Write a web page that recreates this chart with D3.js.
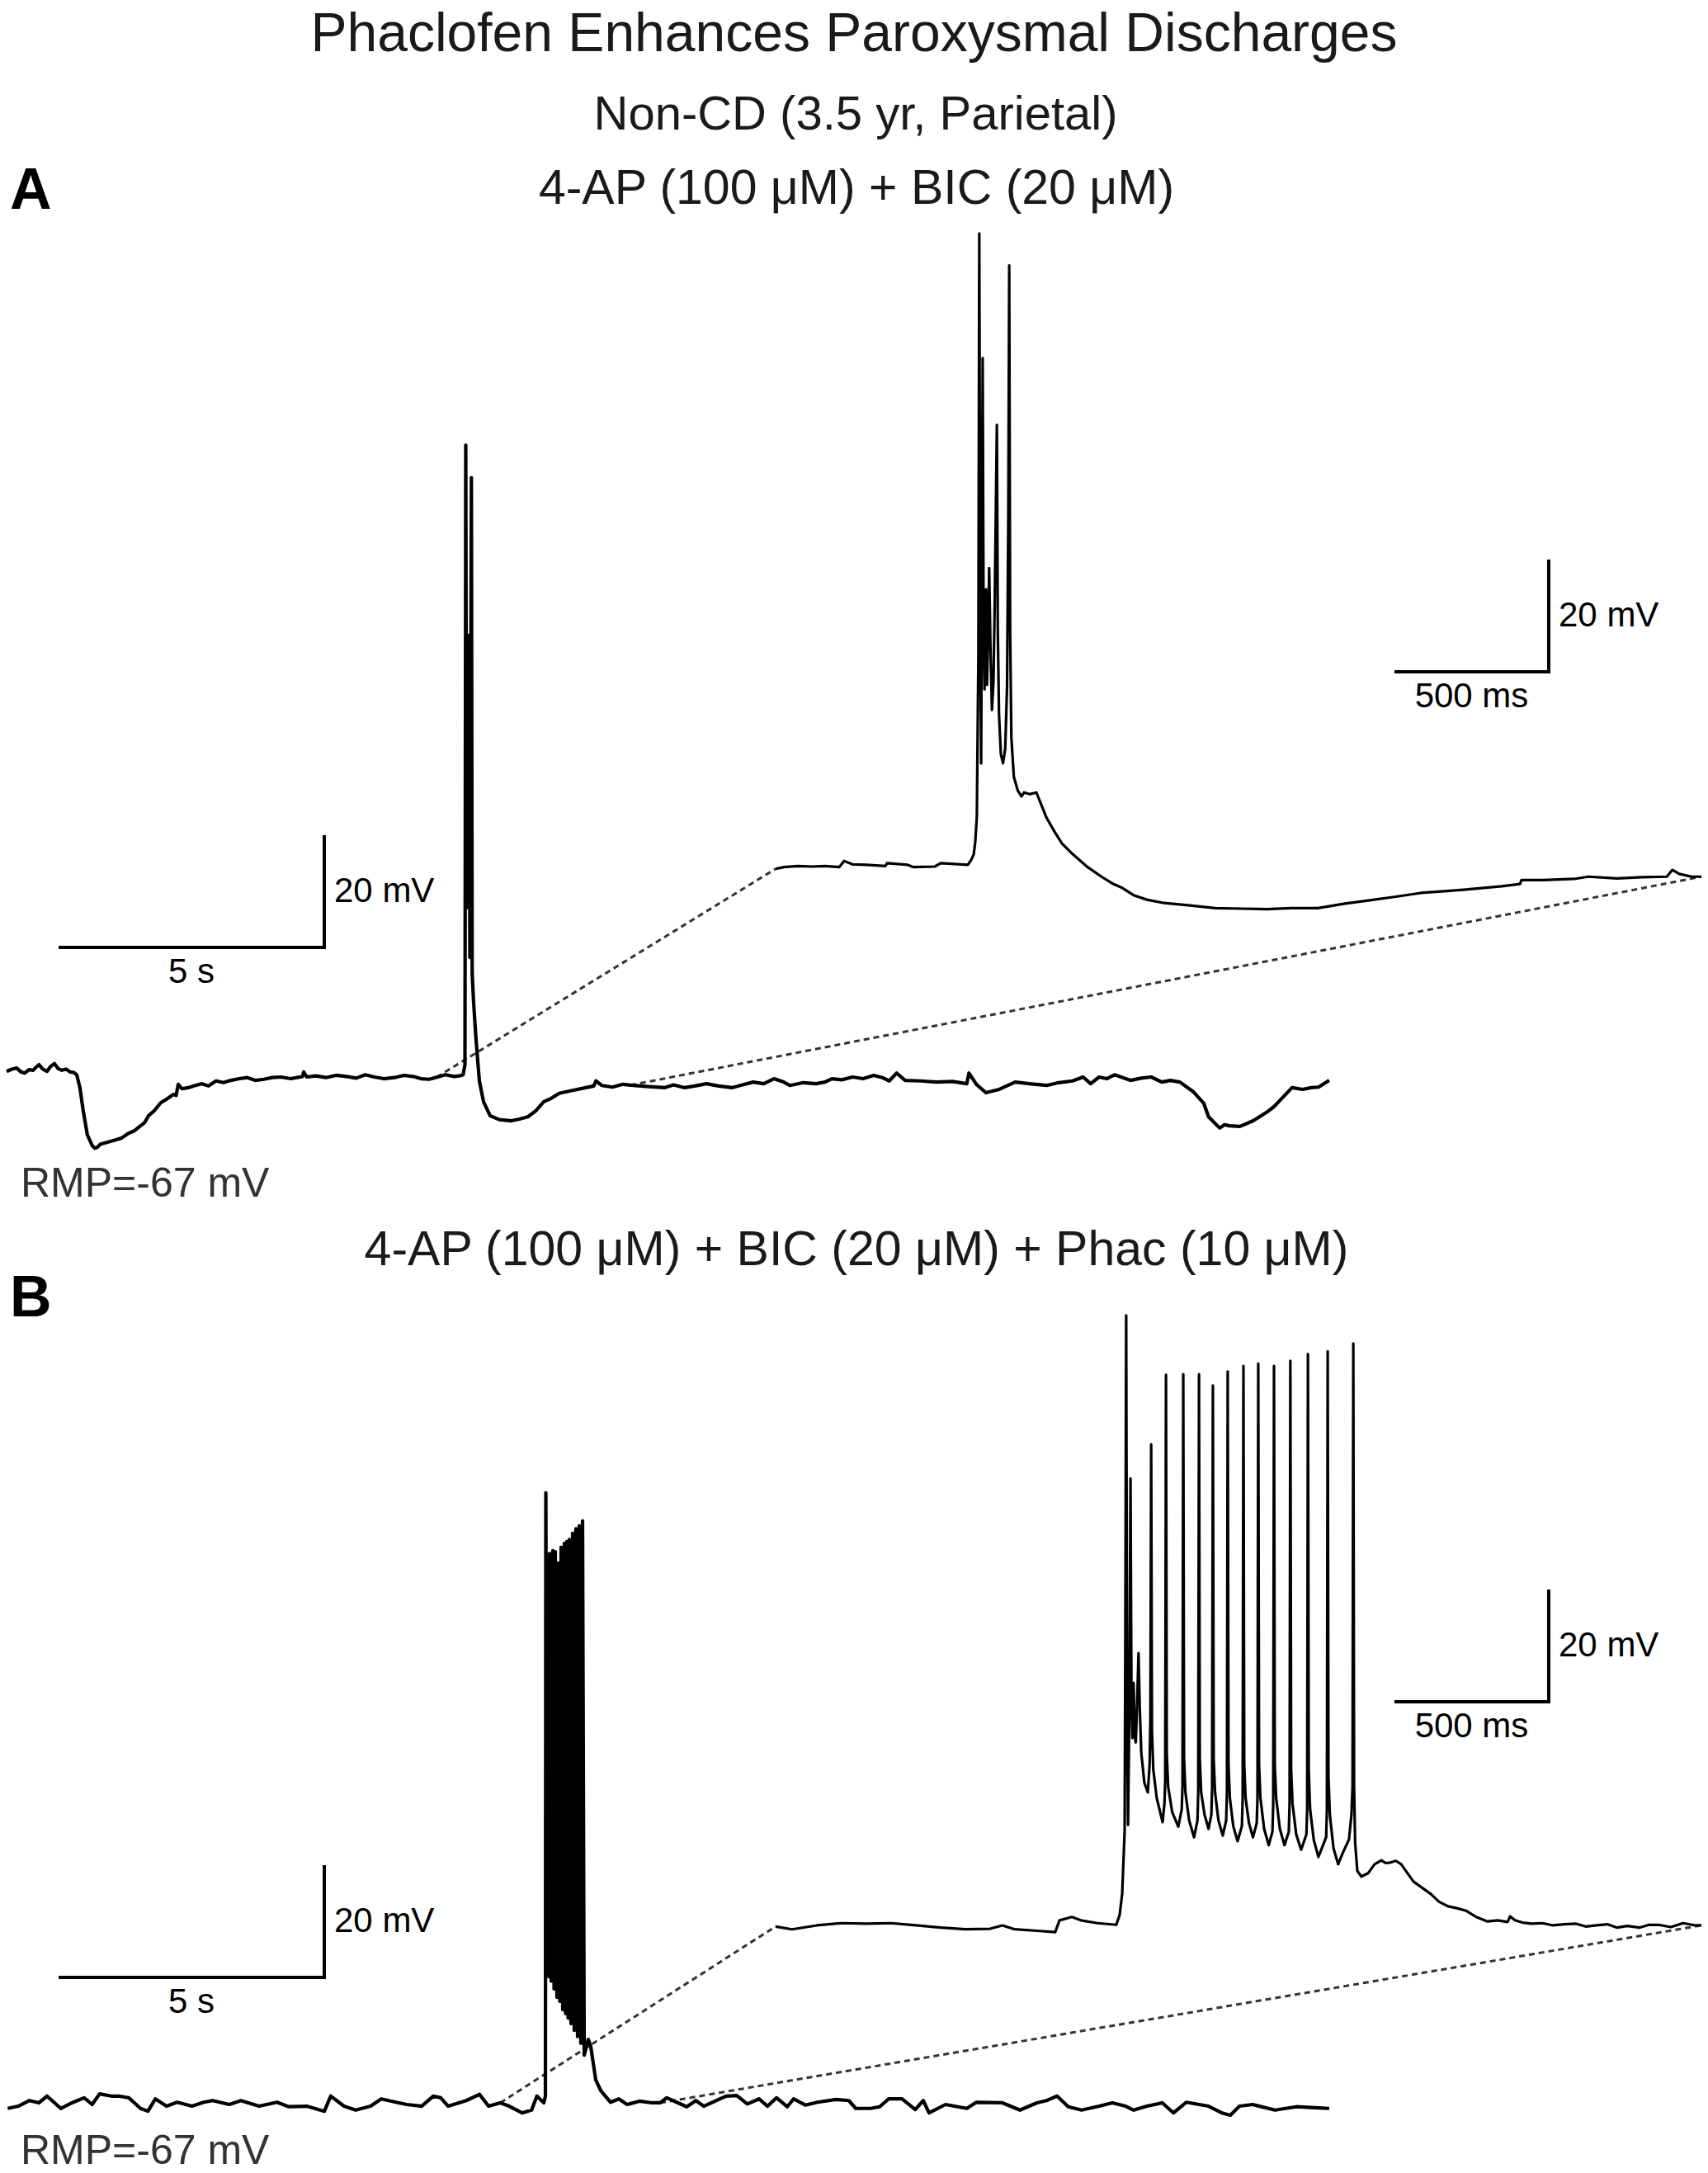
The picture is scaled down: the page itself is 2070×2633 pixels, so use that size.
<!DOCTYPE html>
<html><head><meta charset="utf-8">
<script src="https://cdn.jsdelivr.net/npm/d3@7"></script>
<style>body{margin:0;background:#fff}svg{display:block}</style>
</head><body><svg id="c" width="2070" height="2633"></svg>
<script>
// ---------- DATA (time s / ms, membrane potential mV) ----------
const titleText = "Phaclofen Enhances Paroxysmal Discharges";
const subtitleText = "Non-CD (3.5 yr, Parietal)";
const panelLabels = ["A", "B"];
const conditionLabels = ["4-AP (100 \u03bcM) + BIC (20 \u03bcM)", "4-AP (100 \u03bcM) + BIC (20 \u03bcM) + Phac (10 \u03bcM)"];
const rmpLabel = "RMP=-67 mV";
const scaleLabels = {mv: "20 mV", longT: "5 s", insetT: "500 ms"};
const scaleValues = {mv: 20, longT: 5, insetT: 500};
// expanded windows (s, on long trace) shown in insets
const zoomWindowA = [8.09, 11.74];
const zoomWindowB = [9.29, 12.30];

const longA = [[0,-66.0],[0.1,-65.6],[0.19,-65.4],[0.27,-66.1],[0.34,-66.3],[0.42,-65.7],[0.50,-65.8],[0.56,-65.2],[0.61,-64.8],[0.68,-65.6],[0.76,-66.0],[0.83,-65.1],[0.90,-64.6],[0.97,-65.5],[1.04,-65.8],[1.12,-65.6],[1.20,-66.1],[1.27,-66.2],[1.32,-66.6],[1.38,-68.9],[1.44,-72.9],[1.52,-77.3],[1.61,-79.2],[1.66,-79.7],[1.71,-79.5],[1.76,-79.0],[1.83,-78.8],[1.94,-78.5],[2.05,-78.2],[2.16,-77.9],[2.28,-77.1],[2.40,-76.6],[2.52,-75.7],[2.60,-75.1],[2.67,-73.9],[2.78,-73.0],[2.90,-71.6],[3.02,-70.9],[3.14,-70.1],[3.19,-70.3],[3.23,-68.3],[3.30,-69.1],[3.42,-68.9],[3.55,-68.5],[3.68,-68.2],[3.80,-68.6],[3.94,-67.7],[4.08,-68.0],[4.22,-67.6],[4.38,-67.3],[4.53,-67.1],[4.68,-67.6],[4.84,-67.4],[5.00,-67.1],[5.16,-67.0],[5.35,-67.3],[5.57,-66.9],[5.59,-66.1],[5.65,-67.0],[5.82,-66.8],[6.01,-67.1],[6.20,-66.7],[6.40,-66.9],[6.58,-67.2],[6.75,-66.6],[6.92,-67.0],[7.10,-67.3],[7.30,-67.1],[7.48,-66.7],[7.65,-66.9],[7.80,-67.3],[7.95,-67.4],[8.11,-67.0],[8.26,-66.6],[8.42,-66.9],[8.52,-66.8],[8.59,-66.6],
[8.626,-64.8],[8.641,45.6],[8.654,-22.1],[8.665,10.2],[8.674,-28.0],[8.683,7.3],[8.693,-36.9],[8.703,11.7],[8.719,-45.7],[8.747,39.8],[8.762,-48.6],[8.789,-53.8],[8.835,-60.4],[8.897,-67.7],[8.975,-71.4],[9.099,-73.9],[9.27,-74.6],[9.50,-74.8],[9.65,-74.5],[9.81,-74.1],[9.96,-73.0],[10.11,-71.4],[10.25,-70.8],[10.40,-69.9],[10.65,-69.4],[10.90,-68.9],[11.05,-68.6],[11.09,-67.7],[11.20,-68.5],[11.40,-68.8],[11.60,-68.3],[11.79,-68.5],[12.08,-68.7],[12.38,-68.9],[12.55,-68.4],[12.76,-68.9],[12.95,-68.6],[13.17,-68.2],[13.40,-68.6],[13.65,-68.9],[13.85,-68.4],[14.05,-67.9],[14.25,-68.2],[14.44,-67.3],[14.60,-67.8],[14.74,-68.5],[15.00,-68.0],[15.23,-68.2],[15.40,-67.9],[15.53,-67.3],[15.72,-67.5],[15.92,-67.0],[16.12,-67.3],[16.32,-66.7],[16.48,-67.1],[16.61,-67.7],[16.75,-66.3],[16.91,-67.6],[17.20,-67.7],[17.50,-67.9],[17.80,-67.8],[18.07,-68.2],[18.11,-66.3],[18.25,-68.3],[18.43,-69.8],[18.68,-69.2],[18.98,-67.9],[19.25,-68.2],[19.57,-68.5],[19.80,-68.0],[20.06,-67.7],[20.26,-67.0],[20.40,-68.2],[20.56,-67.0],[20.70,-67.3],[20.85,-66.6],[21.15,-67.6],[21.35,-67.2],[21.54,-67.0],[21.74,-67.9],[21.90,-67.6],[22.08,-67.9],[22.33,-69.6],[22.53,-71.7],[22.62,-74.1],[22.83,-76.1],[22.92,-75.5],[23.01,-75.7],[23.21,-75.8],[23.46,-74.8],[23.71,-73.3],[23.85,-72.3],[24.01,-70.7],[24.19,-68.9],[24.39,-69.2],[24.55,-68.9],[24.69,-68.8],[24.89,-67.6]];

const insetA = [[0,-67.4],[27,-67.1],[72,-66.9],[120,-67.0],[160,-66.9],[206,-67.1],[222,-66.0],[249,-66.6],[294,-66.7],[356,-66.9],[361,-66.4],[428,-66.7],[447,-67.1],[516,-67.0],[535,-66.4],[623,-66.7],[634,-65.8],[642,-64.8],[647,-62.6],[652,-58.2],[657,-30],[660,45.8],[663,-20],[666,-48.6],[668,-20],[671,23.6],[674,-25],[677,-35.4],[680,-25],[682,-17.6],[685,-34.6],[689,-25],[692,-13.8],[696,-27.3],[701,-39.1],[706,-34],[710,-20],[717,11.7],[720,-25],[724,-40],[730,-47],[737,-48.6],[744,-46],[750,-35],[754,-5],[757,40.1],[760,-25],[764,-44],[772,-51],[785,-53.5],[797,-54.5],[805,-53.8],[824,-54.1],[845,-53.8],[861,-56.0],[877,-58.2],[904,-60.8],[928,-62.9],[963,-64.8],[1011,-67.1],[1056,-68.8],[1094,-70.1],[1123,-70.8],[1160,-72.1],[1203,-72.9],[1259,-73.5],[1337,-73.9],[1425,-74.4],[1511,-74.5],[1591,-74.6],[1671,-74.4],[1757,-74.4],[1845,-73.6],[1925,-73.0],[2005,-72.4],[2091,-71.7],[2166,-71.4],[2257,-71.0],[2353,-70.5],[2412,-70.1],[2417,-69.4],[2487,-69.4],[2588,-69.2],[2634,-68.8],[2727,-69.1],[2807,-68.9],[2888,-68.8],[2906,-67.6],[2928,-68.3],[2968,-68.8],[3000,-68.8]];

const longB = [[0.02,-67.7],[0.22,-67.3],[0.43,-66.3],[0.61,-66.7],[0.76,-65.5],[1.02,-67.7],[1.23,-66.7],[1.46,-65.8],[1.61,-67.0],[1.75,-65.1],[1.97,-65.5],[2.11,-65.5],[2.30,-65.8],[2.52,-67.7],[2.66,-68.2],[2.80,-66.0],[3.01,-67.3],[3.21,-66.6],[3.49,-67.3],[3.71,-66.6],[3.88,-66.3],[4.19,-67.0],[4.41,-66.3],[4.75,-67.3],[5.09,-66.6],[5.31,-67.4],[5.65,-67.3],[5.98,-68.2],[6.10,-65.5],[6.35,-67.3],[6.57,-68.0],[6.85,-67.3],[7.05,-66.0],[7.33,-66.6],[7.53,-67.0],[7.81,-67.3],[8.03,-65.5],[8.17,-65.8],[8.31,-67.3],[8.65,-66.3],[8.90,-65.2],[9.07,-67.3],[9.29,-66.7],[9.46,-67.3],[9.70,-68.5],[9.88,-68.0],[9.98,-65.5],[10.11,-66.7],[10.14,-65.5],
[10.148,42.0],[10.171,-43.5],[10.179,19.2],[10.199,-44.2],[10.217,31.2],[10.248,-45.0],[10.280,31.7],[10.303,-46.4],[10.326,31.5],[10.357,-47.9],[10.388,29.5],[10.411,-48.6],[10.435,32.3],[10.466,-50.1],[10.497,33.0],[10.520,-50.8],[10.543,33.3],[10.567,-51.6],[10.590,33.7],[10.621,-52.6],[10.652,34.8],[10.683,-53.8],[10.714,35.6],[10.745,-54.9],[10.776,36.1],[10.807,-56.1],[10.839,37.0],[10.870,-58.2],[10.947,-55.4],[10.994,-56.7],[11.087,-62.6],[11.180,-64.5],[11.258,-65.4],[11.366,-66.6],[11.522,-66.0],[11.677,-67.0],[11.910,-66.4],[12.143,-66.7],
[12.30,-66.7],[12.42,-65.8],[12.80,-67.4],[12.97,-66.3],[13.12,-67.3],[13.54,-65.5],[13.74,-65.4],[13.94,-66.9],[14.16,-66.0],[14.32,-67.3],[14.49,-65.8],[14.69,-67.4],[14.81,-66.0],[15.03,-67.1],[15.26,-66.6],[15.61,-66.1],[15.85,-66.3],[15.98,-67.7],[16.26,-67.7],[16.43,-67.4],[16.60,-66.0],[16.85,-66.0],[17.10,-67.9],[17.25,-66.3],[17.36,-68.5],[17.67,-67.0],[18.07,-67.7],[18.25,-66.6],[18.74,-66.7],[19.07,-68.0],[19.39,-66.7],[19.57,-66.3],[19.77,-65.5],[19.98,-67.4],[20.23,-68.0],[20.56,-67.3],[20.81,-66.7],[21.06,-67.3],[21.21,-68.0],[21.46,-67.3],[21.75,-66.7],[21.96,-68.5],[22.20,-66.6],[22.62,-67.3],[22.87,-68.5],[23.03,-68.9],[23.20,-67.3],[23.45,-67.0],[23.87,-68.0],[24.27,-67.4],[24.69,-67.6],[24.89,-67.7]];

const insetB = [[0,-66.9],[53,-67.4],[134,-66.7],[214,-66.3],[294,-66.4],[374,-66.3],[455,-66.7],[535,-67.1],[615,-67.4],[695,-67.3],[735,-66.7],[775,-67.4],[856,-67.7],[906,-67.9],[920,-65.8],[960,-65.2],[989,-65.8],[1043,-66.3],[1104,-66.6],[1115,-64.8],[1123,-61.1],[1131,-50],[1133,-20],[1136,42.0],[1139,-30],[1142,-48.8],[1146,-30],[1150,12.9],[1153,-25],[1156,-33.3],[1160,-23.5],[1164,-33],[1167,-34.1],[1171,-28],[1176,-18.2],[1180,-28],[1185,-36],[1195,-41.3],[1206,-43.0],[1212,-38],[1214.5,-30],[1217,19.0],[1219.5,-32],[1224,-39],[1235,-44],[1254,-48.3],[1260,-45],[1262.5,-41],[1265,31.4],[1267.5,-36],[1272,-42],[1285,-46.5],[1305,-49.1],[1316,-46],[1318.5,-42],[1321,31.5],[1323.5,-37],[1328,-43],[1340,-48],[1356,-51.0],[1367,-48],[1369.5,-43],[1372,31.5],[1374.5,-37],[1379,-43],[1390,-47],[1403,-49.5],[1412,-47],[1414.5,-42],[1417,29.5],[1419.5,-37],[1424,-43],[1435,-48],[1449,-50.7],[1460,-48],[1462.5,-43],[1465,32.0],[1467.5,-38],[1472,-44],[1483,-49],[1497,-51.7],[1511,-49],[1513.5,-44],[1516,33.0],[1518.5,-38],[1523,-44],[1534,-48.5],[1547,-51.0],[1559,-48.5],[1561.5,-44],[1564,33.4],[1566.5,-38],[1571,-44],[1583,-49.5],[1598,-52.4],[1610,-50],[1612.5,-45],[1615,33.0],[1617.5,-38],[1622,-44],[1634,-49.5],[1649,-52.4],[1663,-50],[1665.5,-45],[1668,33.9],[1670.5,-39],[1675,-45],[1687,-50.5],[1703,-53.2],[1720,-50.5],[1722.5,-46],[1725,35.1],[1727.5,-39],[1732,-46],[1744,-51.5],[1759,-54.5],[1784,-51],[1786.5,-46],[1789,35.6],[1791.5,-40],[1796,-47],[1808,-53],[1823,-55.8],[1837,-53.9],[1858,-51.4],[1866,-47],[1869.5,-42],[1872,37.0],[1874.5,-42],[1878,-52],[1885,-57],[1898,-58.0],[1920,-57.4],[1941,-55.8],[1963,-55.1],[1977,-55.6],[1992,-55.5],[2010,-55.2],[2027,-55.8],[2045,-57.2],[2067,-58.9],[2095,-60.0],[2123,-61.1],[2150,-62.5],[2179,-63.3],[2205,-63.6],[2238,-64.1],[2270,-65.2],[2307,-66.0],[2340,-65.8],[2372,-66.1],[2380,-65.1],[2396,-65.8],[2420,-66.2],[2449,-66.4],[2485,-66.3],[2519,-66.7],[2555,-66.5],[2594,-66.4],[2625,-66.9],[2660,-66.7],[2695,-66.5],[2727,-67.1],[2760,-66.8],[2799,-67.1],[2830,-66.6],[2861,-66.6],[2901,-67.0],[2941,-66.3],[2981,-66.7],[3000,-66.7]];

// ---------- LAYOUT ----------
const svg = d3.select("#c");
const FONT = "'Liberation Sans', Arial, Helvetica, sans-serif";
const xLong = d3.scaleLinear().domain([0, 25]).range([8, 1618]);
const xInset = d3.scaleLinear().domain([0, 3000]).range([940, 2062]);
const panels = [
  {label: panelLabels[0], cond: conditionLabels[0], long: longA, inset: insetA, win: zoomWindowA,
   yLong: d3.scaleLinear().domain([-67, -47]).range([1305, 1169]),
   yInset: d3.scaleLinear().domain([-67, -47]).range([1050, 914]),
   labelY: 253, condY: 247, rmpY: 1450,
   barLong: [393, 1148], barInset: [1877, 814]},
  {label: panelLabels[1], cond: conditionLabels[1], long: longB, inset: insetB, win: zoomWindowB,
   yLong: d3.scaleLinear().domain([-67, -47]).range([2550, 2414]),
   yInset: d3.scaleLinear().domain([-67, -47]).range([2335, 2199]),
   labelY: 1595, condY: 1533, rmpY: 2622,
   barLong: [393, 2396], barInset: [1877, 2062]}
];

function vAt(arr, t) {
  for (let i = 0; i < arr.length - 1; i++) {
    if (arr[i][0] <= t && arr[i + 1][0] >= t) {
      const f = (t - arr[i][0]) / (arr[i + 1][0] - arr[i][0]);
      return arr[i][1] + f * (arr[i + 1][1] - arr[i][1]);
    }
  }
  return arr[arr.length - 1][1];
}

svg.append("text").attr("x", 1035).attr("y", 62).attr("text-anchor", "middle")
  .attr("font-family", FONT).attr("font-size", 66).attr("fill", "#1a1a1a").text(titleText);
svg.append("text").attr("x", 1037).attr("y", 157).attr("text-anchor", "middle")
  .attr("font-family", FONT).attr("font-size", 58).attr("fill", "#1a1a1a").text(subtitleText);

panels.forEach(p => {
  svg.append("text").attr("x", 12).attr("y", p.labelY).attr("font-family", FONT)
    .attr("font-weight", "bold").attr("font-size", 70).attr("fill", "#000").text(p.label);
  svg.append("text").attr("x", 1038).attr("y", p.condY).attr("text-anchor", "middle")
    .attr("font-family", FONT).attr("font-size", 59).attr("fill", "#1a1a1a").text(p.cond);
  svg.append("text").attr("x", 25).attr("y", p.rmpY).attr("font-family", FONT)
    .attr("font-size", 50).attr("fill", "#333").text(rmpLabel);

  // dashed connectors
  const t0 = p.win[0], t1 = p.win[1];
  const first = p.inset[0], last = p.inset[p.inset.length - 1];
  [[t0, first], [t1, last]].forEach(([t, pt]) => {
    svg.append("line")
      .attr("x1", xLong(t)).attr("y1", p.yLong(vAt(p.long, t)))
      .attr("x2", xInset(pt[0])).attr("y2", p.yInset(pt[1]))
      .attr("stroke", "#333").attr("stroke-width", 3).attr("stroke-dasharray", "7,5");
  });

  const lineLong = d3.line().x(d => xLong(d[0])).y(d => p.yLong(d[1]));
  const lineInset = d3.line().x(d => xInset(d[0])).y(d => p.yInset(d[1]));
  svg.append("path").attr("d", lineLong(p.long)).attr("fill", "none")
    .attr("stroke", "#000").attr("stroke-width", 4.2).attr("stroke-linejoin", "round");
  svg.append("path").attr("d", lineInset(p.inset)).attr("fill", "none")
    .attr("stroke", "#000").attr("stroke-width", 3.2).attr("stroke-linejoin", "round");

  // scale bars
  const mvLen = p.yLong(-67) - p.yLong(-67 + scaleValues.mv);
  const sLen = xLong(scaleValues.longT) - xLong(0);
  const [cx, cy] = p.barLong;
  svg.append("path").attr("d", `M${cx - sLen},${cy}H${cx}V${cy - mvLen}`)
    .attr("fill", "none").attr("stroke", "#000").attr("stroke-width", 4);
  svg.append("text").attr("x", cx + 12).attr("y", cy - 55).attr("font-family", FONT)
    .attr("font-size", 42).attr("fill", "#000").text(scaleLabels.mv);
  svg.append("text").attr("x", cx - sLen / 2).attr("y", cy + 43).attr("text-anchor", "middle")
    .attr("font-family", FONT).attr("font-size", 42).attr("fill", "#000").text(scaleLabels.longT);

  const mvLen2 = p.yInset(-67) - p.yInset(-67 + scaleValues.mv);
  const msLen = xInset(scaleValues.insetT) - xInset(0);
  const [ix, iy] = p.barInset;
  svg.append("path").attr("d", `M${ix - msLen},${iy}H${ix}V${iy - mvLen2}`)
    .attr("fill", "none").attr("stroke", "#000").attr("stroke-width", 4);
  svg.append("text").attr("x", ix + 12).attr("y", iy - 55).attr("font-family", FONT)
    .attr("font-size", 42).attr("fill", "#000").text(scaleLabels.mv);
  svg.append("text").attr("x", ix - msLen / 2).attr("y", iy + 43).attr("text-anchor", "middle")
    .attr("font-family", FONT).attr("font-size", 42).attr("fill", "#000").text(scaleLabels.insetT);
});
</script></body></html>
